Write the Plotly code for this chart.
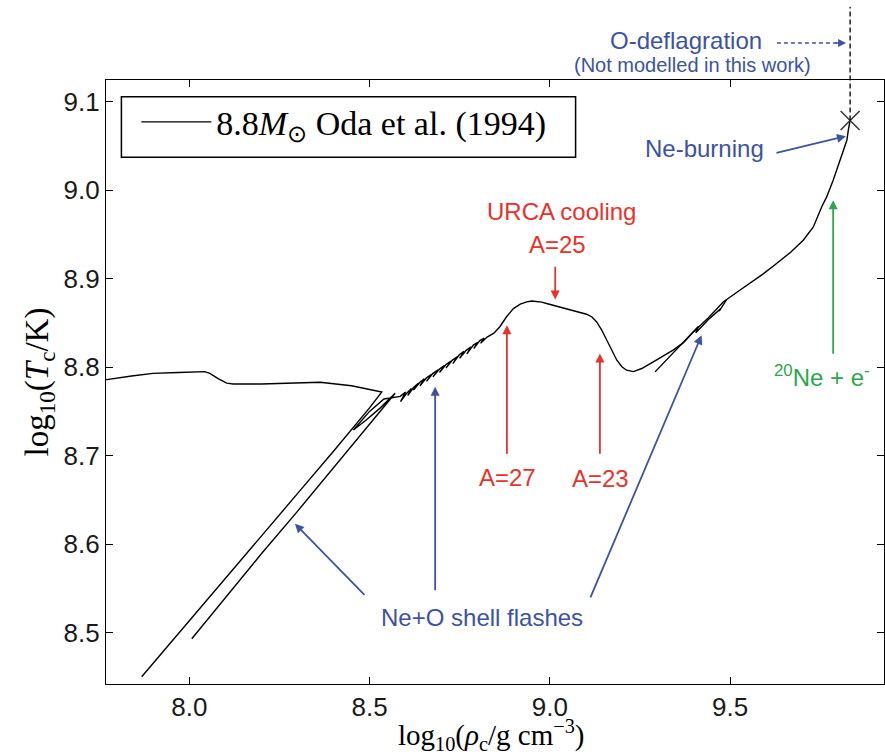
import plotly.graph_objects as go

# Central track of the 8.8 Msun model of Oda et al. (1994)
# log10(rho_c / g cm^-3) and log10(T_c / K), split into the drawn pieces.

# plateau, then the contraction line running back down to low density
rho_early = [7.760, 7.771, 7.840, 7.899, 7.970, 8.043, 8.057, 8.080, 8.104, 8.122,
             8.200, 8.300, 8.363, 8.450, 8.534,
             8.500, 8.450, 8.400, 8.300, 8.200, 8.100, 8.000, 7.900, 7.868]
T_early = [8.7855, 8.786, 8.790, 8.793, 8.794, 8.795, 8.793, 8.787, 8.782, 8.781,
           8.781, 8.782, 8.783, 8.779, 8.772,
           8.754, 8.729, 8.705, 8.657, 8.609, 8.561, 8.513, 8.465, 8.450]

# second contraction line with the small loop at its top
rho_rise = [8.007, 8.100, 8.200, 8.300, 8.400, 8.500, 8.571,
            8.530, 8.490, 8.455, 8.500, 8.540]
T_rise = [8.493, 8.539, 8.589, 8.637, 8.686, 8.735, 8.7705,
          8.754, 8.740, 8.729, 8.750, 8.764]

# Ne+O shell flashes
rho_flash = [8.585, 8.600, 8.586, 8.604, 8.616, 8.606, 8.622, 8.636, 8.622, 8.640,
             8.652, 8.640, 8.658, 8.672, 8.658, 8.676, 8.690, 8.676, 8.694, 8.708,
             8.694, 8.712, 8.726, 8.712, 8.730, 8.744, 8.731, 8.749, 8.762, 8.750,
             8.768, 8.782, 8.770, 8.788, 8.800, 8.789, 8.806, 8.818, 8.808, 8.826]
T_flash = [8.767, 8.772, 8.761, 8.771, 8.776, 8.768, 8.777, 8.782, 8.774, 8.783,
           8.787, 8.779, 8.788, 8.792, 8.784, 8.793, 8.797, 8.789, 8.798, 8.802,
           8.794, 8.803, 8.807, 8.799, 8.808, 8.812, 8.804, 8.814, 8.818, 8.810,
           8.819, 8.823, 8.815, 8.825, 8.828, 8.821, 8.830, 8.833, 8.827, 8.834]

# URCA bump, the dip, and the final rise to Ne ignition
rho_late = [8.845, 8.862, 8.880, 8.899, 8.918, 8.936, 8.950, 8.964, 8.978, 8.991,
            9.010, 9.028, 9.050, 9.075, 9.090, 9.102, 9.117, 9.130, 9.144, 9.158,
            9.172, 9.186, 9.200, 9.213, 9.232, 9.255, 9.287, 9.315, 9.343, 9.370,
            9.394, 9.440, 9.481, 9.520, 9.555, 9.592, 9.629, 9.668, 9.703, 9.731,
            9.754, 9.768, 9.786, 9.805, 9.824, 9.828, 9.833]
T_late = [8.8385, 8.8460, 8.8570, 8.8663, 8.8712, 8.8738, 8.8748, 8.8746, 8.8736, 8.8720,
          8.8700, 8.8682, 8.8658, 8.8633, 8.8618, 8.8599, 8.8568, 8.8512, 8.8420, 8.8305,
          8.8185, 8.8079, 8.8005, 8.7966, 8.7950, 8.7985, 8.8060, 8.8125, 8.8195, 8.8275,
          8.8380, 8.8560, 8.8738, 8.8850, 8.8946, 8.9055, 8.9172, 8.9300, 8.9436, 8.9586,
          8.9812, 8.9925, 9.0114, 9.0340, 9.0566, 9.0680, 9.0790]

# short shell-flash branch near log rho = 9.3-9.5
rho_branch = [9.292, 9.340, 9.394, 9.412, 9.405, 9.440, 9.475, 9.470, 9.490]
T_branch = [8.7947, 8.8150, 8.8375, 8.8460, 8.8390, 8.8540, 8.8665, 8.8635, 8.8760]

# end point of the track (onset of the O deflagration)
rho_end = 9.833
T_end = 9.079

x_ticks = [8.0, 8.5, 9.0, 9.5]
y_ticks = [8.5, 8.6, 8.7, 8.8, 8.9, 9.0, 9.1]
x_range = [7.769, 9.927]
y_range = [8.4418, 9.1247]

BLUE = "#3d52a3"
RED = "#e8322b"
GREEN = "#2ba64b"
SANS = "Liberation Sans, Arial, sans-serif"
SERIF = "Liberation Serif, Times New Roman, serif"


def joined(*pieces):
    xs, ys = [], []
    for k, (px, py) in enumerate(pieces):
        if k:
            xs.append(None)
            ys.append(None)
        xs.extend(px)
        ys.extend(py)
    return xs, ys


track_x, track_y = joined(
    (rho_early, T_early),
    (rho_rise + rho_flash + rho_late, T_rise + T_flash + T_late),
    (rho_branch, T_branch),
)

fig = go.Figure()
fig.add_trace(go.Scatter(
    x=track_x, y=track_y, mode="lines", connectgaps=False,
    line=dict(color="black", width=1.4),
    name="8.8<i>M</i><sub>⊙</sub> Oda et al. (1994)",
))
fig.add_trace(go.Scatter(
    x=[rho_end], y=[T_end], mode="markers", showlegend=False,
    marker=dict(symbol="x-thin", size=19, line=dict(color="#333333", width=1.5)),
))


def label(text, x, y, color, size=24, yref="y"):
    return dict(text=text, x=x, y=y, xref="x", yref=yref, showarrow=False,
                xanchor="center", yanchor="middle",
                font=dict(family=SANS, size=size, color=color))


def arrow(tip_x, tip_y, tail_x, tail_y, color):
    return dict(text="", x=tip_x, y=tip_y, ax=tail_x, ay=tail_y,
                xref="x", yref="y", axref="x", ayref="y",
                showarrow=True, arrowhead=2, arrowsize=1.0, arrowwidth=1.8,
                arrowcolor=color, standoff=0, startstandoff=0)


def paper_y(value):
    return (value - y_range[0]) / (y_range[1] - y_range[0])


annotations = [
    # x-axis title, set below the tick labels
    dict(text="log<sub>10</sub>(<i>ρ</i><sub>c</sub>/g cm<sup>−3</sup>)",
         x=0.495, y=-0.084, xref="paper", yref="paper", showarrow=False,
         xanchor="center", yanchor="middle",
         font=dict(family=SERIF, size=29, color="black")),
    label("O-deflagration", 9.378, 1.0650, BLUE, 24, yref="paper"),
    label("(Not modelled in this work)", 9.397, 1.0245, BLUE, 20, yref="paper"),
    label("Ne-burning", 9.430, 9.047, BLUE),
    label("URCA cooling", 9.032, 8.976, RED),
    label("A=25", 9.021, 8.939, RED),
    label("A=27", 8.882, 8.675, RED),
    label("A=23", 9.140, 8.674, RED),
    label("<sup>20</sup>Ne + e<sup>-</sup>", 9.754, 8.790, GREEN),
    label("Ne+O shell flashes", 8.813, 8.517, BLUE),
    arrow(8.293, 8.623, 8.490, 8.541, BLUE),
    arrow(8.682, 8.778, 8.682, 8.546, BLUE),
    arrow(9.421, 8.836, 9.111, 8.538, BLUE),
    arrow(8.881, 8.8475, 8.881, 8.7005, RED),
    arrow(9.139, 8.8155, 9.139, 8.7005, RED),
    arrow(9.015, 8.8765, 9.015, 8.9153, RED),
    arrow(9.786, 8.9888, 9.786, 8.8135, GREEN),
    arrow(9.8215, 9.0612, 9.6246, 9.042, BLUE),
    # head of the dashed pointer towards the deflagration line
    dict(text="", x=9.822, y=1.0613, xref="x", yref="paper",
         ax=-12, ay=0, axref="pixel", ayref="pixel",
         showarrow=True, arrowhead=2, arrowsize=1.0, arrowwidth=1.6,
         arrowcolor=BLUE, standoff=0),
]

shapes = [
    # deflagration line rising from the end of the track
    dict(type="line", xref="x", yref="paper", x0=rho_end, x1=rho_end,
         y0=paper_y(T_end), y1=1.1214,
         line=dict(color="black", width=1.3, dash="5px,3px")),
    # dashed pointer from the label
    dict(type="line", xref="x", yref="paper", x0=9.630, x1=9.812,
         y0=1.0613, y1=1.0613, line=dict(color=BLUE, width=1.6, dash="4px,3px")),
    # legend frame
    dict(type="rect", xref="paper", yref="paper", x0=0.0198, x1=0.6036,
         y0=0.8720, y1=0.9724, line=dict(color="black", width=1.5),
         fillcolor="rgba(0,0,0,0)"),
]

axis_common = dict(
    showline=True, linecolor="black", linewidth=1.3, mirror="ticks",
    ticks="inside", ticklen=7, tickwidth=1.2, tickcolor="black",
    showgrid=False, zeroline=False, automargin=False,
    tickfont=dict(family=SANS, size=26, color="#1a1a1a"),
)

fig.update_layout(
    width=885, height=754,
    margin=dict(l=106, r=1, t=80, b=70),
    paper_bgcolor="white", plot_bgcolor="white",
    showlegend=True,
    legend=dict(x=0.039, xanchor="left", y=0.930, yanchor="middle",
                bgcolor="rgba(0,0,0,0)", borderwidth=0, itemwidth=70,
                font=dict(family=SERIF, size=34, color="black")),
    xaxis=dict(range=x_range, tickvals=x_ticks, tickformat=".1f", **axis_common),
    yaxis=dict(range=y_range, tickvals=y_ticks, tickformat=".1f",
               title=dict(text="log<sub>10</sub>(<i>T</i><sub>c</sub>/K)",
                          font=dict(family=SERIF, size=33, color="black"), standoff=4),
               **axis_common),
    annotations=annotations,
    shapes=shapes,
)

fig.write_html("out.html")
